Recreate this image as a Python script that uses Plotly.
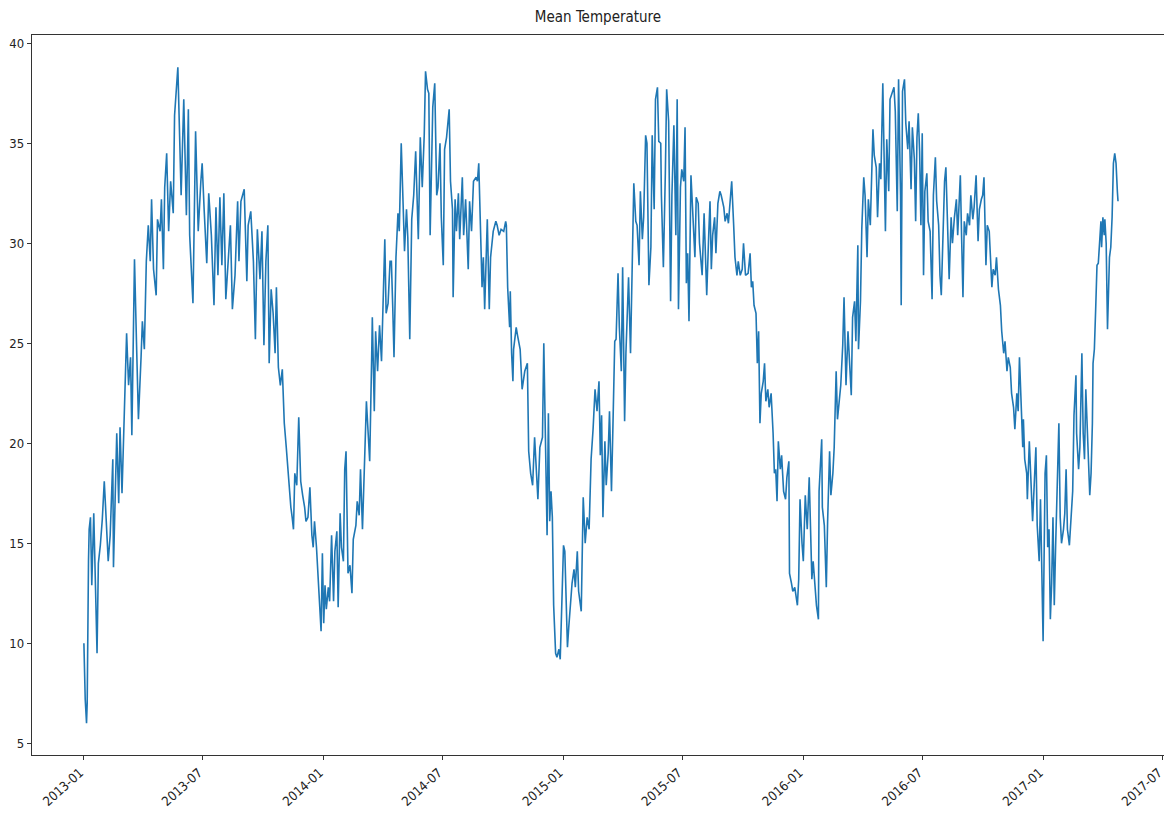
import pandas as pd
import plotly.graph_objects as go

start_date = "2013-01-01"

# Day offsets from start_date and mean temperature values
days_2013 = [0, 1, 2, 4, 5, 7, 8, 10, 12, 15, 20, 22, 25, 28, 31, 33, 37, 40, 44, 45,
             50, 53, 55, 58, 61, 65, 68, 71, 73, 77, 80, 83, 87, 89, 92, 95, 98, 101, 103, 106,
             110, 112, 116, 118, 121, 123, 126, 129, 132, 136, 138, 143, 148, 152,
             156, 159, 161, 166, 170, 174, 178, 180, 183, 187, 190, 194, 198, 201, 204, 207,
             210, 213, 216, 220, 223, 226, 230, 234, 236, 239, 244, 248, 250, 254, 258, 261,
             264, 268, 271, 274, 277, 280, 282, 285, 288, 291, 293, 296, 299, 302, 305, 308,
             312, 315, 317, 319, 321, 324, 327, 330, 333, 336, 338, 341, 344, 347, 349, 351,
             354, 356, 359, 361, 363]
temp_2013 = [10.0, 7.3, 7.2, 6.0, 7.0, 14.1, 15.7, 16.3, 12.9, 16.5, 9.5, 14.0, 14.9, 16.2, 18.1, 16.8, 14.1, 15.4, 19.2, 13.8,
             20.5, 17.0, 20.8, 17.5, 21.0, 25.5, 22.9, 24.3, 20.4, 29.2, 25.1, 21.2, 24.3, 26.1, 24.7, 29.1, 30.9, 29.1, 32.2, 28.7,
             27.4, 31.2, 30.6, 32.2, 28.7, 32.8, 34.5, 30.6, 33.1, 31.5, 36.4, 38.8, 32.4, 37.2,
             31.4, 36.7, 30.4, 27.0, 35.6, 30.6, 33.1, 34.0, 31.7, 29.0, 32.5, 30.4, 26.9, 31.8, 28.4, 32.3,
             28.9, 32.5, 27.2, 29.5, 30.9, 26.7, 28.4, 32.1, 29.1, 32.1, 32.7, 28.1, 30.9, 31.6, 29.1, 25.2,
             30.7, 28.2, 30.6, 24.9, 29.1, 30.9, 24.0, 27.7, 26.5, 24.5, 27.8, 23.8, 22.9, 23.7, 21.0, 19.8,
             17.9, 16.8, 16.3, 15.7, 18.5, 17.9, 21.3, 18.1, 17.4, 16.8, 16.1, 16.3, 17.8, 15.4, 14.8, 16.1,
             14.8, 13.7, 12.1, 10.6, 14.5]

days_2014 = [365, 367, 369, 372, 374, 377, 380, 382, 385, 387, 390, 392, 395, 397, 399, 402, 405, 408, 410, 414,
             416, 419, 421, 424, 427, 430, 433, 435, 438, 439, 442, 444, 447, 450, 453, 455, 458, 460, 463, 466,
             468, 470, 472, 475, 478, 480, 483, 486, 488, 491, 493, 496, 499, 502, 505, 509, 512, 515, 518, 520,
             523, 525, 527, 531, 534, 537, 539, 542, 544, 547, 549, 552, 556, 558, 561, 562, 565, 567, 570, 572,
             576, 578, 581, 585, 587, 590, 593, 597, 599, 601, 604, 606, 608, 610, 614, 617, 619, 623, 627, 629,
             632, 635, 639, 642, 643, 645, 648, 649, 651, 653, 654, 658, 660, 664, 667, 671, 675, 677, 680, 683,
             686, 689, 691, 694, 698, 700, 703, 705, 707, 709, 711, 713, 715, 718, 720, 723, 725, 728]
temp_2014 = [11.0, 12.9, 11.7, 12.8, 12.1, 15.4, 12.1, 14.6, 15.6, 11.8, 16.5, 14.8, 14.1, 18.7, 19.6, 13.5, 13.9, 12.5, 15.2, 15.9,
             17.1, 16.4, 18.7, 15.7, 19.0, 22.1, 20.3, 19.1, 24.3, 26.3, 21.6, 25.6, 23.6, 25.9, 24.1, 26.9, 30.2, 26.5, 27.0, 29.1,
             29.1, 26.9, 24.3, 29.3, 31.5, 30.6, 35.0, 31.8, 29.6, 31.7, 30.3, 25.2, 31.2, 32.4, 34.6, 30.2, 35.3, 32.8, 35.4, 38.6,
             37.7, 37.5, 30.4, 36.8, 38.0, 32.4, 32.8, 35.0, 31.3, 28.9, 34.7, 35.3, 36.7, 33.1, 31.7, 27.3, 32.2, 30.6, 32.5, 30.2,
             33.3, 30.4, 32.2, 28.7, 32.1, 30.6, 33.1, 33.3, 33.1, 34.0, 30.2, 27.8, 29.3, 26.7, 31.2, 26.7, 29.3, 30.6, 31.1, 30.9,
             30.4, 30.7, 30.6, 31.1, 30.9, 27.8, 25.8, 27.6, 24.5, 23.1, 24.7, 25.8, 25.4, 24.7, 22.7, 23.6, 24.0, 19.6, 18.5, 17.9,
             20.3, 18.5, 17.2, 19.8, 20.3, 25.0, 18.3, 15.4, 21.5, 16.1, 17.6, 16.3, 11.9, 9.5, 9.3, 9.7, 9.2, 12.1]

days_2015 = [730, 732, 734, 736, 738, 741, 743, 746, 748, 751, 753, 757, 760, 763, 766, 769, 772, 775, 778, 781, 784,
             786, 788, 790, 793, 795, 798, 800, 803, 805, 808, 810, 813, 815, 818, 820, 823, 825, 829, 832, 833,
             837, 840, 842, 845, 847, 850, 852, 855, 857, 860, 863, 865, 868, 870, 873, 875, 878, 879, 882, 885,
             887, 890, 893, 895, 898, 901, 903, 905, 908, 910, 913, 915, 917, 919, 921, 924, 927, 930, 932, 935,
             937, 941, 944, 946,
             948, 951, 953, 955, 957, 960, 962, 965, 968, 970, 974, 976, 979, 981, 984, 986, 989, 991, 994, 996,
             999, 1002, 1004, 1007, 1011, 1014, 1016, 1018, 1020, 1023, 1025, 1027, 1029, 1031, 1034, 1036, 1038, 1041, 1043, 1046,
             1049, 1051, 1053, 1055, 1057, 1060, 1062, 1065, 1068, 1070, 1073, 1074, 1077, 1079, 1082, 1084, 1086, 1088, 1090, 1093]
temp_2015 = [14.9, 14.6, 12.4, 9.8, 10.8, 12.4, 13.0, 13.7, 12.8, 14.6, 12.6, 11.6, 17.3, 15.0, 16.3, 15.7, 19.2, 20.7, 22.7, 21.6, 23.1,
             19.4, 21.4, 16.3, 20.1, 17.9, 19.5, 21.6, 17.6, 20.5, 25.1, 25.2, 28.5, 25.8, 23.6, 28.8, 21.1, 24.5, 28.3, 24.5, 26.0,
             33.0, 31.1, 30.9, 28.9, 32.6, 30.2, 31.3, 35.4, 35.0, 27.9, 29.8, 35.4, 31.7, 37.2, 37.8, 35.1, 35.0, 32.4, 28.8, 33.5,
             37.7, 36.1, 27.1, 32.4, 35.9, 30.4, 37.2, 26.7, 32.8, 33.7, 33.1, 35.8, 28.0, 29.5, 26.1, 33.4, 31.3, 29.3, 32.3, 32.0,
             30.0, 28.4, 31.5, 29.5,
             27.4, 30.4, 32.1, 28.7, 30.4, 31.3, 29.5, 32.0, 32.6, 32.4, 31.8, 31.1, 31.5, 31.0, 32.1, 33.1, 30.9, 29.3, 28.4, 29.1,
             28.4, 28.7, 30.0, 28.4, 28.5, 29.5, 27.8, 28.1, 26.9, 26.5, 24.0, 25.6, 21.0, 22.5, 23.1, 24.0, 22.1, 22.7, 21.8, 22.5,
             20.5, 18.5, 18.7, 17.1, 20.1, 18.7, 19.4, 17.6, 17.2, 18.3, 19.1, 13.5, 13.0, 12.6, 12.8, 12.4, 11.9, 13.2, 17.2, 15.0]

days_2016 = [1095, 1098, 1101, 1104, 1108, 1110, 1113, 1115, 1118, 1119, 1123, 1124, 1127, 1130, 1132, 1135, 1137, 1140, 1142, 1145,
             1147, 1150, 1152, 1155, 1157, 1160, 1163, 1165, 1168, 1170, 1173, 1175, 1178, 1179, 1182, 1184, 1187, 1189, 1192, 1194,
             1197, 1201, 1203, 1206, 1208, 1211, 1213, 1216, 1218, 1220, 1222, 1225, 1227, 1230, 1233, 1235, 1238, 1240, 1243, 1244,
             1246, 1249, 1251, 1254, 1256, 1259, 1261,
             1264, 1266, 1268, 1270, 1272, 1274, 1276, 1278, 1280, 1283, 1285, 1288, 1291, 1293, 1296, 1298, 1301, 1303, 1305, 1307,
             1310, 1312, 1314, 1317, 1320, 1322, 1325, 1328, 1330, 1334, 1336, 1338, 1340, 1343, 1345, 1348, 1350, 1353, 1355, 1358,
             1361, 1363, 1366, 1368, 1370, 1373, 1375, 1378, 1379, 1382, 1384, 1387, 1389, 1392, 1395, 1397, 1400, 1402, 1405, 1407,
             1410, 1412, 1415, 1417, 1420,
             1422, 1424, 1426, 1429, 1430, 1432, 1435, 1436, 1439, 1441, 1444, 1446, 1449, 1451, 1454, 1456, 1458, 1460]
temp_2016 = [14.1, 17.4, 15.7, 18.3, 13.2, 14.1, 12.4, 11.9, 11.2, 17.6, 20.2, 16.8, 15.9, 12.8, 16.1, 19.6, 17.4, 18.5, 19.8, 23.6,
             21.2, 22.5, 22.9, 24.9, 27.3, 22.9, 25.6, 24.3, 22.4, 26.3, 27.1, 25.1, 29.9, 24.7, 27.1, 30.7, 33.3, 32.4, 29.3, 32.2,
             30.9, 35.7, 34.4, 33.8, 31.3, 34.0, 33.2, 38.0, 33.1, 30.6, 35.2, 32.6, 37.2, 37.5, 37.8, 36.6, 31.6, 38.2, 32.4, 26.9,
             37.6, 38.2, 36.0, 34.7, 36.1, 32.7, 35.8,
             34.2, 31.1, 35.3, 36.5, 34.6, 30.9, 35.5, 28.4, 32.6, 33.5, 31.1, 30.6, 27.2, 32.4, 34.3, 32.1, 30.9, 28.4, 27.4, 29.3,
             33.1, 33.8, 31.9, 28.2, 31.3, 30.0, 31.3, 32.2, 30.4, 33.4, 30.2, 27.3, 31.1, 30.4, 31.5, 30.9, 32.4, 31.2, 31.8, 33.4,
             30.1, 31.7, 32.2, 32.4, 33.3, 28.9, 30.9, 30.6, 29.9, 27.8, 28.7, 28.4, 29.3, 27.7, 26.9, 25.6, 24.5, 25.1, 23.6, 24.3,
             23.8, 22.5, 21.8, 20.7, 22.5,
             21.6, 24.3, 22.3, 19.8, 21.2, 19.2, 18.5, 17.2, 20.1, 18.5, 16.1, 17.6, 19.8, 15.9, 14.1, 17.2, 14.3, 10.1]

days_2017 = [1463, 1465, 1467, 1469, 1471, 1473, 1475, 1477, 1479, 1482, 1484, 1486, 1488, 1491, 1493, 1495, 1497, 1500, 1502, 1505,
             1507, 1510, 1511, 1514, 1516, 1519, 1521, 1523, 1525, 1528, 1531, 1533, 1535, 1536, 1538, 1540, 1542, 1544, 1546, 1548,
             1549, 1551, 1553, 1554, 1556, 1558, 1561, 1563, 1565, 1567, 1569, 1571, 1573, 1574]
temp_2017 = [18.5, 19.4, 14.8, 15.7, 11.2, 13.0, 16.3, 11.9, 14.8, 18.5, 21.0, 16.3, 15.0, 15.7, 16.5, 18.7, 15.7, 14.9, 16.3, 17.6,
             21.4, 23.4, 20.5, 18.7, 19.8, 24.5, 20.5, 19.2, 22.7, 20.3, 17.4, 18.5, 21.0, 24.0, 24.7, 26.7, 28.9, 29.0, 30.0, 31.1,
             29.8, 31.3, 30.4, 31.2, 30.0, 25.7, 29.3, 29.8, 31.3, 34.0, 34.5, 34.0, 32.6, 32.1]

y_ticks = [5, 10, 15, 20, 25, 30, 35, 40]

all_days = []
all_temps = []
for d, t in [(days_2013, temp_2013), (days_2014, temp_2014), (days_2015, temp_2015),
             (days_2016, temp_2016), (days_2017, temp_2017)]:
    assert len(d) == len(t), (len(d), len(t))
    all_days.extend(d)
    all_temps.extend(t)

dates = pd.Timestamp(start_date) + pd.to_timedelta(all_days, unit="D")

FONT = "DejaVu Sans Condensed, Liberation Sans Narrow, DejaVu Sans, sans-serif"
AXIS_COLOR = "#333333"

fig = go.Figure(
    go.Scatter(
        x=dates, y=all_temps, mode="lines",
        line=dict(color="#1f77b4", width=1.6),
        hoverinfo="skip",
    )
)

fig.update_layout(
    width=1164, height=830,
    margin=dict(l=32, r=0, t=35, b=75, autoexpand=False),
    paper_bgcolor="white", plot_bgcolor="white",
    showlegend=False,
    font=dict(family=FONT, size=13, color="#222222"),
    title=dict(text="Mean Temperature", x=0.5, xref="paper", xanchor="center",
               y=1 - 17 / 830, yref="container", yanchor="middle",
               font=dict(family=FONT, size=15, color="#222222")),
)

fig.update_xaxes(
    type="date", range=["2012-10-14", "2017-07-03"],
    tick0="2013-01-01", dtick="M6", tickformat="%Y-%m", tickangle=-42,
    ticklabeloverflow="allow", automargin=False, ticklabelshift=-4,
    ticks="outside", ticklen=4, tickwidth=1, tickcolor=AXIS_COLOR,
    showline=True, linecolor=AXIS_COLOR, linewidth=1.4, mirror=True,
    showgrid=False, zeroline=False,
)
fig.update_yaxes(
    range=[4.415, 40.415], tickvals=y_ticks, automargin=False,
    ticks="outside", ticklen=4, tickwidth=1, tickcolor=AXIS_COLOR,
    showline=True, linecolor=AXIS_COLOR, linewidth=1.4, mirror=True,
    showgrid=False, zeroline=False,
)

fig.write_html(
    "out.html",
    config={"displayModeBar": False},
    post_script="document.body.style.margin='0';document.body.style.overflow='hidden';",
)
